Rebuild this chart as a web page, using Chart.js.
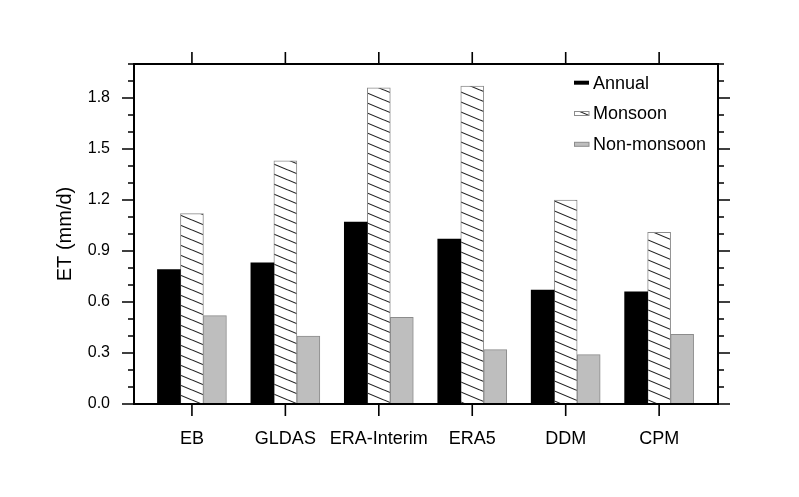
<!DOCTYPE html>
<html>
<head>
<meta charset="utf-8">
<script src="https://cdn.jsdelivr.net/npm/chart.js@4.4.0/dist/chart.umd.min.js"></script>
<style>
body { margin: 0; background: #fff; }
#caja { width: 799px; height: 497px; }
</style>
</head>
<body>
<div id="caja"><canvas id="grafica"></canvas></div>
<script>
const categorias = ['EB', 'GLDAS', 'ERA-Interim', 'ERA5', 'DDM', 'CPM'];
const anual = [0.79, 0.83, 1.07, 0.97, 0.67, 0.66];
const monzon = [1.12, 1.43, 1.86, 1.87, 1.20, 1.01];
const noMonzon = [0.52, 0.40, 0.51, 0.32, 0.29, 0.41];
const yTicks = [0.0, 0.3, 0.6, 0.9, 1.2, 1.5, 1.8];

const grafica = document.getElementById('grafica');
Chart.defaults.font.family = '"Liberation Sans", Arial, Helvetica, sans-serif';
Chart.defaults.color = '#000';

// hatch pattern for the monsoon bars
function crearRayado() {
    const c = document.createElement('canvas');
    c.width = 24; c.height = 10;
    const g = c.getContext('2d');
    g.fillStyle = '#fff';
    g.fillRect(0, 0, 24, 10);
    g.strokeStyle = '#222';
    g.lineWidth = 1.1;
    g.beginPath();
    g.moveTo(0, -10); g.lineTo(24, 0);
    g.moveTo(0, 0); g.lineTo(24, 10);
    g.moveTo(0, 10); g.lineTo(24, 20);
    g.stroke();
    return g.createPattern(c, 'repeat');
}
const rayado = crearRayado();

const puntos = arr => arr.map((v, i) => ({ x: i, y: v }));

// frame, tick marks on all four sides and the legend
const marco = {
    id: 'marco',
    afterDraw(chart) {
        const { ctx, chartArea: a, scales: { x, y } } = chart;
        ctx.save();
        ctx.strokeStyle = '#000';
        ctx.lineWidth = 1.6;
        ctx.beginPath();
        for (let i = 0; i <= 20; i++) {
            const py = y.getPixelForValue(i / 10);
            const largo = i % 3 === 0 ? 12 : 6;
            ctx.moveTo(a.left - largo, py); ctx.lineTo(a.left, py);
            ctx.moveTo(a.right, py); ctx.lineTo(a.right + largo, py);
        }
        categorias.forEach((c, i) => {
            const px = x.getPixelForValue(i);
            ctx.moveTo(px, a.bottom); ctx.lineTo(px, a.bottom + 12);
            ctx.moveTo(px, a.top); ctx.lineTo(px, a.top - 12);
        });
        ctx.stroke();
        ctx.lineWidth = 2;
        ctx.strokeRect(a.left, a.top, a.right - a.left, a.bottom - a.top);

        // legend
        ctx.font = '18px "Liberation Sans", Arial, sans-serif';
        ctx.textBaseline = 'middle';
        ctx.textAlign = 'left';
        chart.data.datasets.forEach((ds, i) => {
            const cy = 82.7 + i * 30.8;
            ctx.fillStyle = ds.backgroundColor;
            ctx.fillRect(574, cy - 2, 15, 4);
            if (ds.borderWidth) {
                ctx.lineWidth = 1;
                ctx.strokeStyle = ds.borderColor;
                ctx.strokeRect(574.5, cy - 2, 14.5, 4);
            }
            ctx.fillStyle = '#000';
            ctx.fillText(ds.label, 593, cy + 1);
        });
        ctx.restore();
    }
};

const myChart = new Chart(grafica, {
    type: 'bar',
    data: {
        datasets: [{
            label: 'Annual',
            data: puntos(anual),
            backgroundColor: '#000',
            borderColor: '#000',
            borderWidth: 0
        }, {
            label: 'Monsoon',
            data: puntos(monzon),
            backgroundColor: rayado,
            borderColor: '#8c8c8c',
            borderWidth: 1
        }, {
            label: 'Non-monsoon',
            data: puntos(noMonzon),
            backgroundColor: '#bebebe',
            borderColor: '#8c8c8c',
            borderWidth: 1
        }]
    },
    options: {
        responsive: true,
        maintainAspectRatio: false,
        animation: false,
        barThickness: 23,
        layout: { padding: { top: 64, right: 81, bottom: 0, left: 0 } },
        plugins: { legend: { display: false }, tooltip: { enabled: false } },
        scales: {
            x: {
                type: 'linear',
                offset: false,
                min: -0.62,
                max: 5.63,
                afterBuildTicks: s => { s.ticks = categorias.map((c, i) => ({ value: i })); },
                afterFit: s => { s.height = 93; },
                grid: { display: false, drawTicks: false },
                border: { display: false },
                ticks: {
                    padding: 24,
                    autoSkip: false,
                    maxRotation: 0,
                    font: { size: 18 },
                    callback: (v, i) => categorias[i]
                }
            },
            y: {
                min: 0,
                max: 2.0,
                afterBuildTicks: s => { s.ticks = yTicks.map(v => ({ value: v })); },
                afterFit: s => { s.width = 134; },
                grid: { display: false, drawTicks: false },
                border: { display: false },
                ticks: {
                    padding: 24,
                    font: { size: 16 },
                    callback: v => v.toFixed(1)
                },
                title: {
                    display: true,
                    text: 'ET (mm/d)',
                    font: { size: 20 },
                    padding: { top: 53, bottom: 0 }
                }
            }
        }
    },
    plugins: [marco]
});
</script>
</body>
</html>
